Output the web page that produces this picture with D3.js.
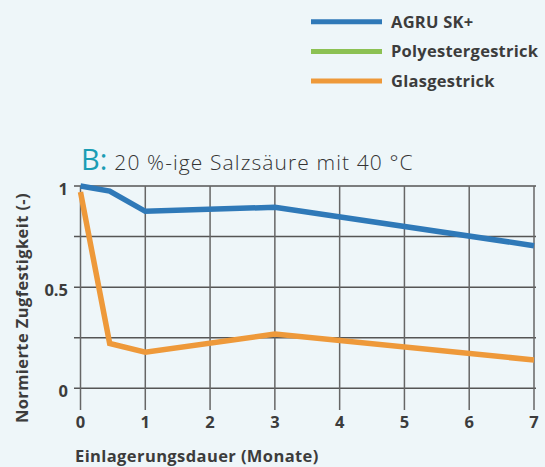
<!DOCTYPE html>
<html>
<head>
<meta charset="utf-8">
<script src="https://cdn.jsdelivr.net/npm/d3@7"></script>
<style>
  body { margin: 0; background: #eef6f9; }
  svg { display: block; font-family: "Open Sans", sans-serif; }
</style>
</head>
<body>
<svg id="chart" width="545" height="467"></svg>
<script>
// months and normalised tensile strength
var agruMonths = [0, 0.45, 1, 3, 7];
var agruValues = [1.0, 0.975, 0.875, 0.895, 0.705];
var glasMonths = [0, 0.45, 1, 3, 7];
var glasValues = [0.97, 0.222, 0.178, 0.268, 0.14];
var xTicks = [0, 1, 2, 3, 4, 5, 6, 7];
var yGrid = [0, 0.25, 0.5, 0.75, 1];
var yLabels = [0, 0.5, 1];
var legendNames = ['AGRU SK+', 'Polyestergestrick', 'Glasgestrick'];
var legendColors = ['#2f79b8', '#8cc153', '#ee993a'];

const svg = d3.select('#chart');
const xScale = d3.scaleLinear().domain([0, 7]).range([80.5, 534]);
const yScale = d3.scaleLinear().domain([0, 1]).range([388.3, 186]);
const textColor = '#3c3c3c';

//Legend
const legend = svg.append('g');
legendNames.forEach(function(name, i) {
    var ly = 21.7 + i * 29.7;
    legend.append('line')
        .attr('x1', 311).attr('x2', 382)
        .attr('y1', ly).attr('y2', ly)
        .attr('stroke', legendColors[i])
        .attr('stroke-width', 5);
    legend.append('text')
        .attr('x', 391).attr('y', ly + 6)
        .attr('font-size', 16.5).attr('font-weight', 700)
        .attr('letter-spacing', 0.25)
        .attr('fill', textColor)
        .text(name);
});

//Title
const title = svg.append('text').attr('x', 81).attr('y', 170).attr('fill', '#333');
title.append('tspan').attr('font-size', 29).attr('font-weight', 400).attr('fill', '#1a9db4').text('B:');
title.append('tspan').attr('font-size', 21).attr('font-weight', 300)
    .attr('letter-spacing', 1.1).attr('dx', 7).text('20 %-ige Salzsäure mit 40 °C');

//Grid
const grid = svg.append('g');
grid.selectAll('.hline').data(yGrid).enter().append('line')
    .attr('x1', 74).attr('x2', 536)
    .attr('y1', function(d) { return yScale(d); })
    .attr('y2', function(d) { return yScale(d); })
    .attr('stroke', '#555').attr('stroke-width', 1.5);
grid.selectAll('.vline').data(xTicks).enter().append('line')
    .attr('x1', function(d) { return xScale(d); })
    .attr('x2', function(d) { return xScale(d); })
    .attr('y1', 186).attr('y2', 410)
    .attr('stroke', '#666').attr('stroke-width', 1.5);

//Tick labels
svg.selectAll('.xlab').data(xTicks).enter().append('text')
    .attr('x', function(d) { return xScale(d); })
    .attr('y', 428)
    .attr('text-anchor', 'middle')
    .attr('font-size', 16.5).attr('font-weight', 700).attr('fill', textColor)
    .text(function(d) { return d; });
svg.selectAll('.ylab').data(yLabels).enter().append('text')
    .attr('x', 68)
    .attr('y', function(d) { return yScale(d) + 8.5; })
    .attr('text-anchor', 'end')
    .attr('font-size', 16.5).attr('font-weight', 700).attr('fill', textColor)
    .text(function(d) { return d; });

//Axis titles
svg.append('text')
    .attr('x', 75).attr('y', 462)
    .attr('font-size', 16.5).attr('font-weight', 700).attr('fill', textColor)
    .attr('letter-spacing', 0.4)
    .text('Einlagerungsdauer (Monate)');
svg.append('text')
    .attr('transform', 'translate(28, 308) rotate(-90)')
    .attr('text-anchor', 'middle')
    .attr('font-size', 16.5).attr('font-weight', 700).attr('fill', textColor)
    .attr('letter-spacing', 0.4)
    .text('Normierte Zugfestigkeit (-)');

//Lines
const line = d3.line()
    .x(function(d) { return xScale(d[0]); })
    .y(function(d) { return yScale(d[1]); });
svg.append('path')
    .datum(d3.zip(glasMonths, glasValues))
    .attr('d', line)
    .attr('fill', 'none').attr('stroke', legendColors[2]).attr('stroke-width', 5.5);
svg.append('path')
    .datum(d3.zip(agruMonths, agruValues))
    .attr('d', line)
    .attr('fill', 'none').attr('stroke', legendColors[0]).attr('stroke-width', 5.5);
</script>
</body>
</html>
